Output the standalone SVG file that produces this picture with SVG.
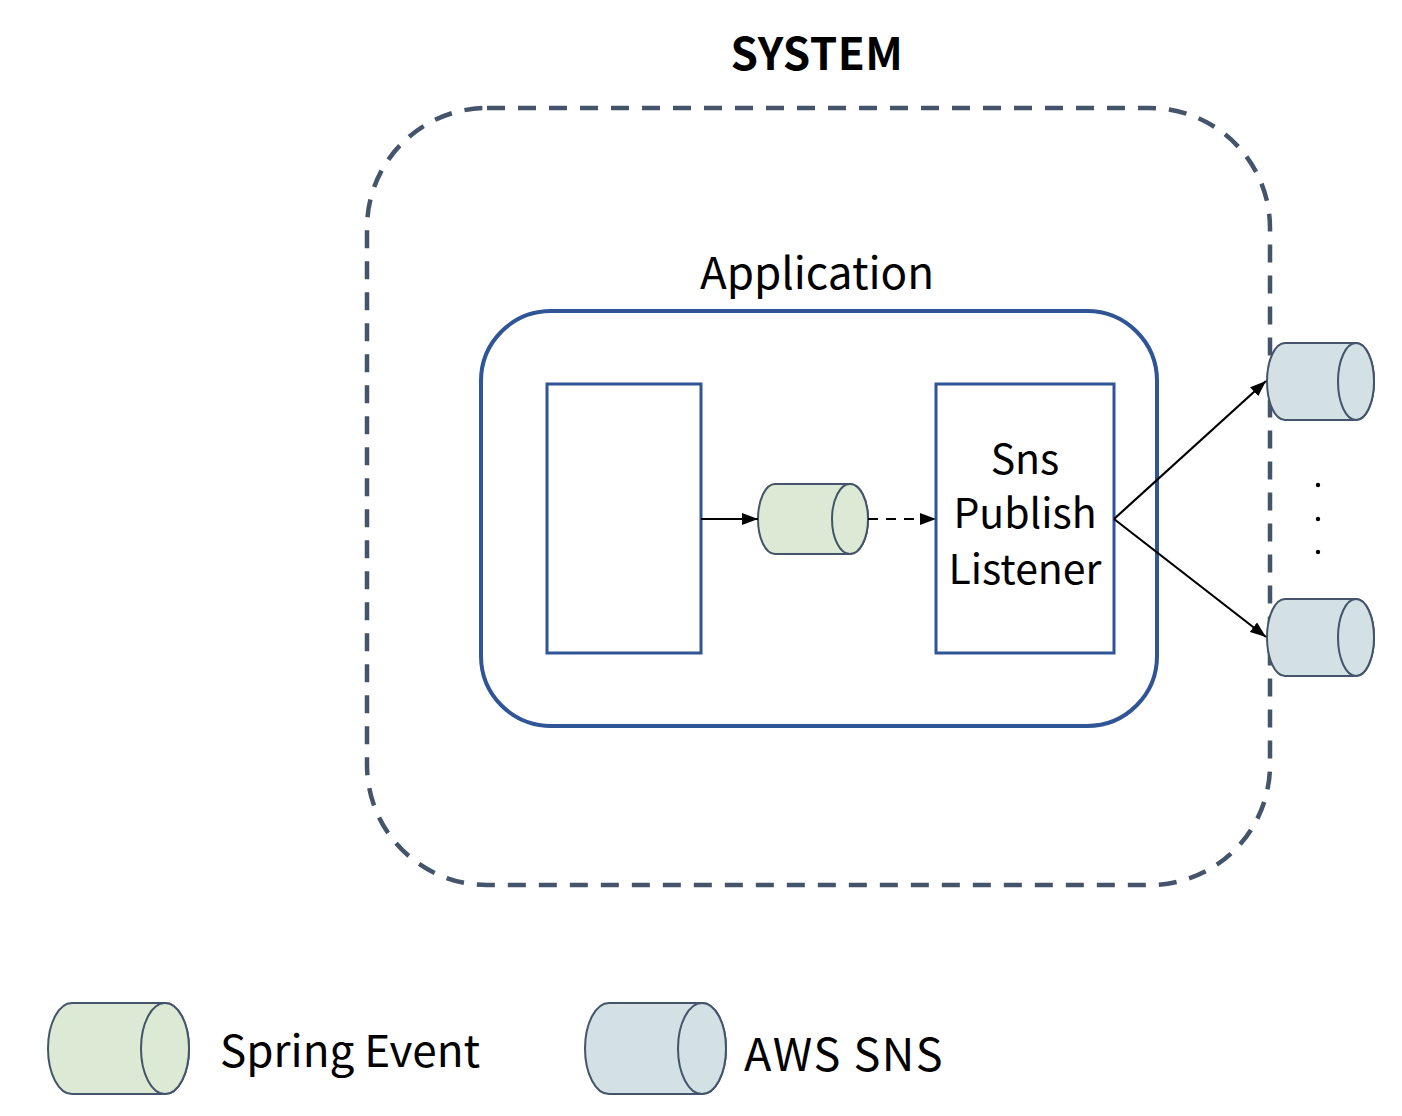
<svg xmlns="http://www.w3.org/2000/svg" width="1402" height="1116" viewBox="0 0 1402 1116">
<style>
.t{font-family:"Noto Sans CJK KR","Noto Sans",sans-serif;fill:#000}
.box{fill:#fff;stroke:#2f5597;stroke-width:3}
.cylG{fill:#dce9d5;stroke:#44546a;stroke-width:2}
.cylB{fill:#d3e0e4;stroke:#44546a;stroke-width:2}
.con{stroke:#000;stroke-width:2.2;fill:none}
</style>
<defs>
<marker id="ah2" viewBox="0 0 16 12" refX="16" refY="6" markerWidth="16" markerHeight="12" markerUnits="userSpaceOnUse" orient="auto"><path d="M0,0 L16,6 L0,12 z" fill="#000"/></marker>
</defs>
<rect width="1402" height="1116" fill="#fff"/>
<g id="system">
<rect x="367" y="108" width="903" height="777" rx="120" ry="120" fill="none" stroke="#44546a" stroke-width="4.5" stroke-dasharray="18 13"/>
<text class="t" x="817" y="70" font-size="44" font-weight="bold" text-anchor="middle" letter-spacing="0.5">SYSTEM</text>
</g>
<g id="application">
<rect x="481" y="311" width="676" height="415" rx="70" ry="70" fill="none" stroke="#2f5597" stroke-width="4"/>
<text class="t" x="817" y="289" font-size="44" text-anchor="middle">Application</text>
</g>
<g id="publisher">
<rect class="box" x="547" y="384" width="154" height="269"/>
</g>
<g id="springEvent">
<path class="cylG" d="M775,484 L850,484 A18,35 0 0 1 850,554 L775,554 A17,35 0 0 1 775,484 z"/>
<ellipse class="cylG" cx="850" cy="519" rx="18" ry="35"/>
</g>
<g id="listener">
<rect class="box" x="936" y="384" width="178" height="269"/>
<text class="t" font-size="41" text-anchor="middle"><tspan x="1025" y="474">Sns</tspan><tspan x="1025" y="528">Publish</tspan><tspan x="1025" y="584">Listener</tspan></text>
</g>
<g id="sns1">
<path class="cylB" d="M1285,343 L1356,343 A18,38.5 0 0 1 1356,420 L1285,420 A18,38.5 0 0 1 1285,343 z"/>
<ellipse class="cylB" cx="1356" cy="381.5" rx="18" ry="38.5"/>
</g>
<g id="sns2">
<path class="cylB" d="M1285,599 L1356,599 A18,38.5 0 0 1 1356,676 L1285,676 A18,38.5 0 0 1 1285,599 z"/>
<ellipse class="cylB" cx="1356" cy="637.5" rx="18" ry="38.5"/>
</g>
<g id="dots" fill="#000">
<circle cx="1318" cy="485" r="2.2"/>
<circle cx="1318" cy="519" r="2.2"/>
<circle cx="1318" cy="552" r="2.2"/>
</g>
<g id="connectors">
<line class="con" x1="701" y1="519" x2="758" y2="519" marker-end="url(#ah2)"/>
<line class="con" x1="868" y1="519" x2="936" y2="519" stroke-dasharray="10 8" marker-end="url(#ah2)"/>
<line class="con" x1="1114" y1="519" x2="1266" y2="381" marker-end="url(#ah2)"/>
<line class="con" x1="1114" y1="519" x2="1266" y2="637" marker-end="url(#ah2)"/>
</g>
<g id="legendSpring">
<path class="cylG" d="M72,1003 L165,1003 A24,45.5 0 0 1 165,1094 L72,1094 A24,45.5 0 0 1 72,1003 z"/>
<ellipse class="cylG" cx="165" cy="1048.5" rx="24" ry="45.5"/>
<text class="t" x="220" y="1067" font-size="44">Spring Event</text>
</g>
<g id="legendSns">
<path class="cylB" d="M609,1003 L702,1003 A24,45.5 0 0 1 702,1094 L609,1094 A24,45.5 0 0 1 609,1003 z"/>
<ellipse class="cylB" cx="702" cy="1048.5" rx="24" ry="45.5"/>
<text class="t" x="744" y="1071" font-size="45" letter-spacing="1.5">AWS SNS</text>
</g>
</svg>
